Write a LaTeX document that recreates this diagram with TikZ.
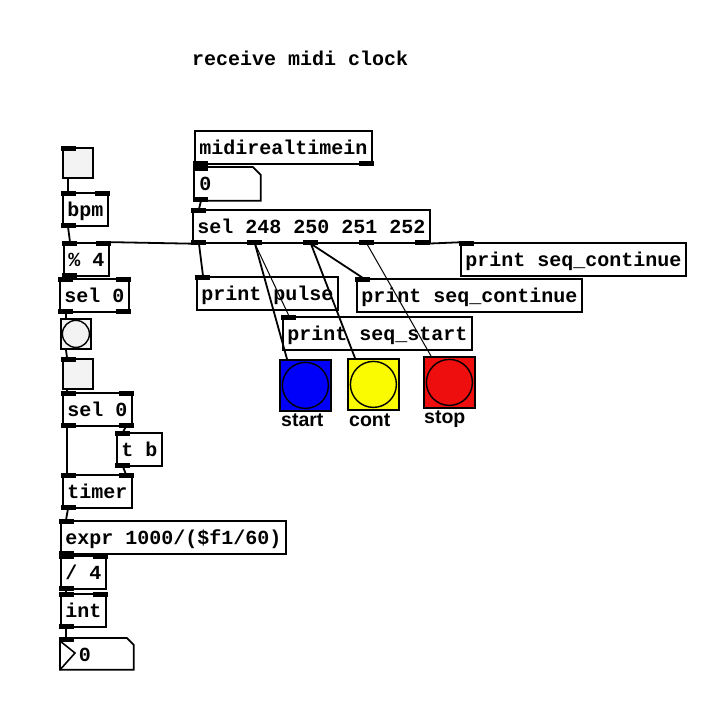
\documentclass[tikz,border=0pt]{standalone}
\usepackage{fontspec}
\usepackage{xcolor}
\usepackage{tikz}
\usetikzlibrary{calc}
\newfontfamily\pdmono{Liberation Mono}
\newfontfamily\pdsans{Liberation Sans}
\definecolor{bngblue}{RGB}{0,0,250}
\definecolor{bngyellow}{RGB}{250,250,0}
\definecolor{bngred}{RGB}{238,14,14}
\definecolor{iemgray}{RGB}{243,243,243}
\tikzset{
  obj/.style   ={draw=black, line width=1.8pt, fill=white, anchor=north west,
                 font=\pdmono\bfseries\fontsize{20}{24}\selectfont,
                 inner xsep=4.5pt, inner ysep=7.5pt, text height=16pt, text depth=2pt},
  numbox/.style={obj, draw=none, fill=none, align=left},
  cmt/.style   ={font=\pdmono\bfseries\fontsize{20}{24}\selectfont, anchor=base west, inner sep=0pt},
  tgl/.style   ={draw=black, line width=1.8pt, fill=iemgray, anchor=north west,
                 minimum size=30pt, inner sep=0pt},
  bng/.style   ={tgl, path picture={\draw[line width=1.4pt] (path picture bounding box.center) circle (#1);}},
  bnglab/.style={font=\pdsans\bfseries\fontsize{19.5}{22}\selectfont, anchor=base west, inner sep=0pt},
  nub/.style   ={fill=black, draw=none},
  wire/.style  ={draw=black, line width=1.8pt},
  wthin/.style ={draw=black, line width=1pt},
}
\begin{document}
\begin{tikzpicture}[x=1pt,y=-1pt]
  \useasboundingbox (0,0) rectangle (727,725);
  \node[cmt] (title) at (192,65) {receive midi clock};
  % midi side
  \node[obj] (midi) at (194,130) {midirealtimein};
  \node[numbox, text width=56pt, inner ysep=7pt] (num0) at (194,167) {0};
  \draw[line width=1.8pt] (num0.north west) -- ([xshift=-8pt]num0.north east) -- ([yshift=-8pt]num0.north east) -- (num0.south east) -- (num0.south west) -- cycle;
  \node[obj] (sel) at (192,209) {sel 248 250 251 252};
  \node[obj] (ppulse) at (196,276) {print pulse};
  \node[obj] (pcontb) at (460,242) {print seq\_continue};
  \node[obj] (pcont) at (356,278) {print seq\_continue};
  \node[obj] (pstart) at (282,316) {print seq\_start};
  \node[bng=23pt, minimum size=51pt, fill=bngblue] (bstart) at (279,359) {};
  \node[bng=23pt, minimum size=51pt, fill=bngyellow] (bcont) at (347,358) {};
  \node[bng=23pt, minimum size=51pt, fill=bngred] (bstop) at (423,356) {};
  \node[bnglab] (lstart) at ($(bstart.south west)+(2,15)$) {start};
  \node[bnglab] (lcont) at ($(bcont.south west)+(2,16)$) {cont};
  \node[bnglab] (lstop) at ($(bstop.south west)+(1,15)$) {stop};
  % tempo side
  \node[tgl] (tga) at (62,147) {};
  \node[obj] (bpm) at (62,192) {bpm};
  \node[obj] (mod) at (63,242) {\% 4};
  \node[obj] (selA) at (59,278) {sel 0};
  \node[bng=13.5pt] (bng0) at (60,318) {};
  \node[tgl] (tgb) at (62,358) {};
  \node[obj] (selB) at (62,392) {sel 0};
  \node[obj] (tb) at (116,432) {t b};
  \node[obj] (timer) at (62,474) {timer};
  \node[obj] (expr) at (60,520) {expr 1000/(\$f1/60)};
  \node[obj] (div) at (60,555) {/ 4};
  \node[obj] (int) at (60,593) {int};
  \node[numbox, text width=36pt, inner xsep=18pt, inner ysep=6pt, text height=17pt, text depth=1pt] (num1) at (60,638) {0};
  \draw[line width=1.8pt] (num1.north west) -- ([xshift=-7pt]num1.north east) -- ([yshift=-7pt]num1.north east) -- (num1.south east) -- (num1.south west) -- cycle;
  \draw[line width=1.6pt] ([yshift=-3pt]num1.north west) -- ([xshift=15pt,yshift=-15pt]num1.north west) -- (num1.south west);
  % inlets and outlets
  \foreach \nd in {num0,sel,ppulse,pcontb,pcont,pstart,tga,bpm,mod,selA,tgb,selB,tb,timer,expr,div,int,num1}{
    \path[nub] ($(\nd.north west)+(-0.9,-0.9)$) rectangle ++(15,4.8);
  }
  \foreach \nd in {bpm,mod,selA,selB,timer,div,int}{
    \path[nub] ($(\nd.north east)+(0.9,-0.9)$) rectangle ++(-15,4.8);
  }
  \foreach \nd in {midi,num0,bpm,mod,selA,selB,tb,timer,expr,div,int}{
    \path[nub] ($(\nd.south west)+(-0.9,0.9)$) rectangle ++(15,-4.8);
  }
  \foreach \nd in {midi,selA,selB}{
    \path[nub] ($(\nd.south east)+(0.9,0.9)$) rectangle ++(-15,-4.8);
  }
  \foreach \k in {0,...,4} {
    \coordinate (selnub\k) at ($(sel.south west)!\k/4!([xshift=-15pt]sel.south east)$);
    \path[nub] ($(selnub\k)+(-0.9,0.9)$) rectangle ++(15,-4.8);
    \coordinate (selo\k) at ($(selnub\k)+(7,0)$);
  }
  % connections
  \draw[wire] ($(tga.south west)+(6,0)$) -- ($(bpm.north west)+(6,0)$);
  \draw[wire] ($(bpm.south west)+(6,0)$) -- ($(mod.north west)+(7,0)$);
  \draw[wire] ($(mod.south west)+(7,0)$) -- ($(selA.north west)+(7,0)$);
  \draw[wire] ($(selA.south west)+(7,0)$) -- ($(bng0.north west)+(6,0)$);
  \draw[wire] ($(bng0.south west)+(6,0)$) -- ($(tgb.north west)+(5,0)$);
  \draw[wire] ($(tgb.south west)+(5,0)$) -- ($(selB.north west)+(5,0)$);
  \draw[wire] ($(selB.south west)+(5,0)$) -- ($(timer.north west)+(5,0)$);
  \draw[wire] ($(selB.south east)+(-7,0)$) -- ($(tb.north west)+(7,0)$);
  \draw[wire] ($(tb.south west)+(7,0)$) -- ($(timer.north east)+(-7,0)$);
  \draw[wire] ($(timer.south west)+(6,0)$) -- ($(expr.north west)+(6,0)$);
  \draw[wire] ($(expr.south west)+(6,0)$) -- ($(div.north west)+(6,0)$);
  \draw[wire] ($(div.south west)+(6,0)$) -- ($(int.north west)+(6,0)$);
  \draw[wire] ($(int.south west)+(6,0)$) -- ($(num1.north west)+(6,0)$);
  \draw[wire] ($(midi.south west)+(7,0)$) -- ($(num0.north west)+(7,0)$);
  \draw[wire] ($(num0.south west)+(7,0)$) -- ($(sel.north west)+(7,0)$);
  \draw[wire] (selo0) -- ($(ppulse.north west)+(7,0)$);
  \draw[wire] (selo0) -- ($(mod.north east)+(-7,0)$);
  \draw[wire] (selo1) -- ($(bstart.north west)+(8,0)$);
  \draw[wthin] (selo1) -- ($(pstart.north west)+(7,0)$);
  \draw[wire] (selo2) -- ($(pcont.north west)+(7,0)$);
  \draw[wire] (selo2) -- ($(bcont.north west)+(8,0)$);
  \draw[wthin] (selo3) -- ($(bstop.north west)+(8,0)$);
  \draw[wire] (selo4) -- ($(pcontb.north west)+(7,0)$);
\end{tikzpicture}
\end{document}
